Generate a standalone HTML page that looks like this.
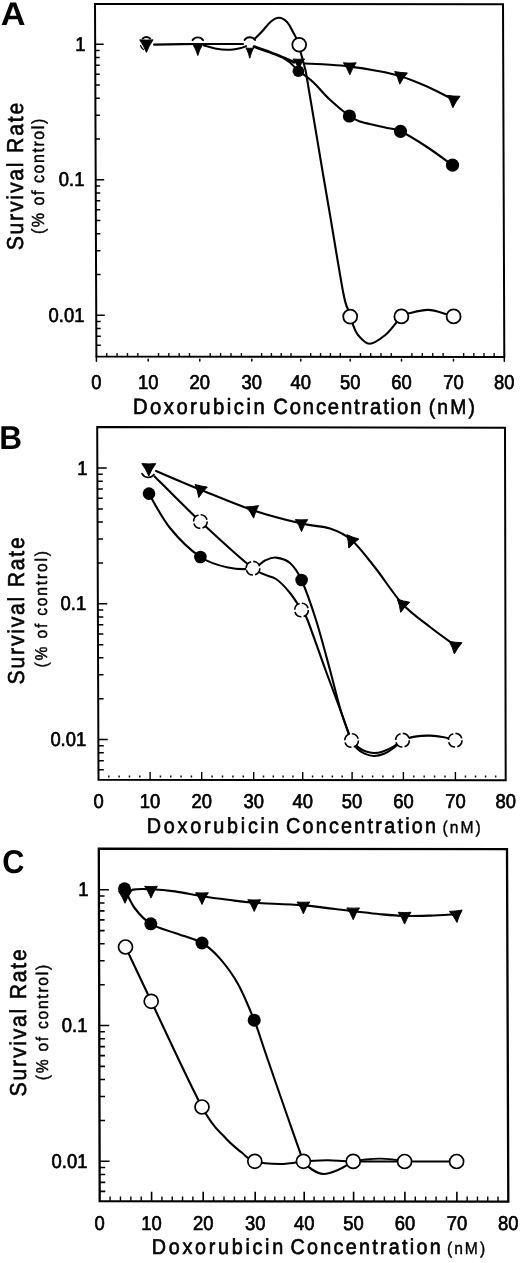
<!DOCTYPE html>
<html lang="en">
<head>
<meta charset="utf-8">
<title>Survival rate vs doxorubicin concentration</title>
<style>
html,body{margin:0;padding:0;background:#fff;}
body{width:520px;height:1263px;overflow:hidden;}
svg{display:block;will-change:transform;filter:grayscale(1);}
text{font-family:"Liberation Sans",Arial,Helvetica,sans-serif;text-rendering:geometricPrecision;}
</style>
</head>
<body>
<svg width="520" height="1263" viewBox="0 0 520 1263" font-family='"Liberation Sans", Arial, Helvetica, sans-serif' fill="#000">
<rect width="520" height="1263" fill="#fff"/>
<g id="panel-A">
<polygon points="95,3.9 503,4.2 504.3,357 96.4,356.5" fill="none" stroke="#000" stroke-width="2.0" stroke-linejoin="miter"/>
<path d="M95.16,44.3 h8.5 M95.19,50.5 h4.5 M95.21,57.43 h4.5 M95.24,65.29 h4.5 M95.28,74.36 h4.5 M95.32,85.09 h4.5 M95.37,98.22 h4.5 M95.44,115.15 h4.5 M95.54,139.01 h4.5 M95.7,179.8 h8.5 M95.72,186 h4.5 M95.75,192.93 h4.5 M95.78,200.79 h4.5 M95.82,209.86 h4.5 M95.86,220.59 h4.5 M95.91,233.72 h4.5 M95.98,250.65 h4.5 M96.07,274.51 h4.5 M96.24,315.3 h8.5 M96.26,321.5 h4.5 M96.29,328.43 h4.5 M96.32,336.29 h4.5 M96.36,345.36 h4.5" stroke="#000" stroke-width="1.5" fill="none"/>
<path d="M106.76,356.3 v-3.2 M117.12,356.3 v-3.2 M127.48,356.3 v-3.2 M137.84,356.3 v-3.2 M158.52,356.3 v-3.2 M168.84,356.3 v-3.2 M179.16,356.3 v-3.2 M189.48,356.3 v-3.2 M210.2,356.3 v-3.2 M220.6,356.3 v-3.2 M231,356.3 v-3.2 M241.4,356.3 v-3.2 M261.6,356.3 v-3.2 M271.4,356.3 v-3.2 M281.2,356.3 v-3.2 M291,356.3 v-3.2 M310.68,356.3 v-3.2 M320.56,356.3 v-3.2 M330.44,356.3 v-3.2 M340.32,356.3 v-3.2 M360.46,356.3 v-3.2 M370.72,356.3 v-3.2 M380.98,356.3 v-3.2 M391.24,356.3 v-3.2 M411.9,356.3 v-3.2 M422.3,356.3 v-3.2 M432.7,356.3 v-3.2 M443.1,356.3 v-3.2 M463.66,356.3 v-3.2 M473.82,356.3 v-3.2 M483.98,356.3 v-3.2 M494.14,356.3 v-3.2" stroke="#111" stroke-width="1.4" fill="none"/>
<path d="M96.4,356.7 v4.5 M148.2,359.3 v1.8 M199.8,359.3 v1.8 M251.8,359.3 v1.8 M300.8,359.3 v1.8 M350.2,359.3 v1.8 M401.5,359.3 v1.8 M453.5,359.3 v1.8 M504.3,356.7 v4.5" stroke="#000" stroke-width="1.5" fill="none" stroke-linecap="round"/>
<text x="85.6" y="50.8" font-size="20" text-anchor="end" textLength="10.23" lengthAdjust="spacingAndGlyphs" stroke="#000" stroke-width="0.7">1</text>
<text x="84.4" y="186.3" font-size="20" text-anchor="end" textLength="25.58" lengthAdjust="spacingAndGlyphs" stroke="#000" stroke-width="0.7">0.1</text>
<text x="84.4" y="321.8" font-size="20" text-anchor="end" textLength="35.81" lengthAdjust="spacingAndGlyphs" stroke="#000" stroke-width="0.7">0.01</text>
<text x="96.4" y="389.1" font-size="20" text-anchor="middle" textLength="10.23" lengthAdjust="spacingAndGlyphs" stroke="#000" stroke-width="0.7">0</text>
<text x="148.2" y="389.1" font-size="20" text-anchor="middle" textLength="20.46" lengthAdjust="spacingAndGlyphs" stroke="#000" stroke-width="0.7">10</text>
<text x="199.8" y="389.1" font-size="20" text-anchor="middle" textLength="20.46" lengthAdjust="spacingAndGlyphs" stroke="#000" stroke-width="0.7">20</text>
<text x="251.8" y="389.1" font-size="20" text-anchor="middle" textLength="20.46" lengthAdjust="spacingAndGlyphs" stroke="#000" stroke-width="0.7">30</text>
<text x="300.8" y="389.1" font-size="20" text-anchor="middle" textLength="20.46" lengthAdjust="spacingAndGlyphs" stroke="#000" stroke-width="0.7">40</text>
<text x="350.2" y="389.1" font-size="20" text-anchor="middle" textLength="20.46" lengthAdjust="spacingAndGlyphs" stroke="#000" stroke-width="0.7">50</text>
<text x="401.5" y="389.1" font-size="20" text-anchor="middle" textLength="20.46" lengthAdjust="spacingAndGlyphs" stroke="#000" stroke-width="0.7">60</text>
<text x="453.5" y="389.1" font-size="20" text-anchor="middle" textLength="20.46" lengthAdjust="spacingAndGlyphs" stroke="#000" stroke-width="0.7">70</text>
<text x="504.3" y="389.1" font-size="20" text-anchor="middle" textLength="20.46" lengthAdjust="spacingAndGlyphs" stroke="#000" stroke-width="0.7">80</text>
<path d="M154,44.6 C161.3,44.5 182.97,44.1 197.8,44 C212.63,43.9 235.47,44 243,44" fill="none" stroke="#000" stroke-width="2.1" stroke-linecap="round" stroke-linejoin="round"/>
<path d="M255,38.5 C256.17,37.33 259.33,34.33 262,31.5 C264.67,28.67 268.17,23.78 271,21.5 C273.83,19.22 276.33,17.72 279,17.8 C281.67,17.88 284.67,19.63 287,22 C289.33,24.37 291.42,29.25 293,32 C294.58,34.75 295.92,37.42 296.5,38.5" fill="none" stroke="#000" stroke-width="2.1" stroke-linecap="round" stroke-linejoin="round"/>
<path d="M300.4,51.6 C300.73,52.75 301.63,55.68 302.4,58.5 C303.17,61.32 304.17,64.75 305,68.5 C305.83,72.25 304.4,63.42 307.4,81 C310.4,98.58 319.37,152.5 323,174 C326.63,195.5 325.83,190.25 329.2,210 C332.57,229.75 340,275.8 343.2,292.5 C346.4,309.2 347.53,307.25 348.4,310.2" fill="none" stroke="#000" stroke-width="2.1" stroke-linecap="round" stroke-linejoin="round"/>
<path d="M352.4,323.4 C353.33,325.33 355.15,331.6 358,335 C360.85,338.4 365,343.75 369.5,343.8 C374,343.85 380.48,338.9 385,335.3 C389.52,331.7 394.67,324.38 396.6,322.2" fill="none" stroke="#000" stroke-width="2.1" stroke-linecap="round" stroke-linejoin="round"/>
<path d="M407.6,313.6 C411,312.98 421.47,309.8 428,309.9 C434.53,310 443.67,313.48 446.8,314.2" fill="none" stroke="#000" stroke-width="2.1" stroke-linecap="round" stroke-linejoin="round"/>
<path d="M204,45.5 C205.83,46 211,47.78 215,48.5 C219,49.22 223.83,49.85 228,49.8 C232.17,49.75 237,48.8 240,48.2 C243,47.6 245,46.53 246,46.2" fill="none" stroke="#000" stroke-width="2.1" stroke-linecap="round" stroke-linejoin="round"/>
<path d="M254,46.6 C256.67,47.53 264.83,50.27 270,52.2 C275.17,54.13 281,56.53 285,58.2 C289,59.87 292.5,61.53 294,62.2" fill="none" stroke="#000" stroke-width="2.8" stroke-linecap="round" stroke-linejoin="round"/>
<path d="M284,58.4 C285,59.08 288.25,61.07 290,62.5 C291.75,63.93 293.75,66.25 294.5,67" fill="none" stroke="#000" stroke-width="2.1" stroke-linecap="round" stroke-linejoin="round"/>
<path d="M305,63.5 C309.17,63.72 322.53,64.28 330,64.8 C337.47,65.32 342.3,65.65 349.8,66.6 C357.3,67.55 366.55,68.9 375,70.5 C383.45,72.1 391.83,73.53 400.5,76.2 C409.17,78.87 418.2,82.6 427,86.5 C435.8,90.4 448.92,97.42 453.3,99.6" fill="none" stroke="#000" stroke-width="2.1" stroke-linecap="round" stroke-linejoin="round"/>
<path d="M298.6,71 C301,72.83 307.77,77.2 313,82 C318.23,86.8 323.93,94.13 330,99.8 C336.07,105.47 344.4,112.37 349.4,116 C354.4,119.63 355.73,120.07 360,121.6 C364.27,123.13 370.5,124.15 375,125.2 C379.5,126.25 382.75,126.88 387,127.9 C391.25,128.92 393.83,128.12 400.5,131.3 C407.17,134.48 418.33,141.35 427,147 C435.67,152.65 448.25,162.17 452.5,165.2" fill="none" stroke="#000" stroke-width="2.1" stroke-linecap="round" stroke-linejoin="round"/>
<path d="M142.64,38.42 A6.4,6.4 0 0 1 150.16,38.42" fill="none" stroke="#000" stroke-width="1.9" stroke-linecap="round"/>
<path d="M140.6,45.5 A6.6,6.6 0 0 0 143.4,49.6" fill="none" stroke="#000" stroke-width="1.2" stroke-linecap="round"/>
<path transform="translate(146.4,44) rotate(0)" d="M-6.7,-4.2 Q0,-3.65 6.7,-4.2 Q2.61,1.64 0,8.4 Q-2.61,1.64 -6.7,-4.2 Z" fill="#000" stroke="#000" stroke-width="0.9" stroke-linejoin="round"/>
<path d="M192.56,40.13 A6.4,6.4 0 0 1 203.04,40.13" fill="none" stroke="#000" stroke-width="1.9" stroke-linecap="round"/>
<path transform="translate(197.8,48.4) rotate(0)" d="M-4.8,-3.8 Q0,-3.12 4.8,-3.8 Q1.68,1.19 0,7.2 Q-1.68,1.19 -4.8,-3.8 Z" fill="#000" stroke="#000" stroke-width="0.9" stroke-linejoin="round"/>
<path d="M244.56,39.93 A6.4,6.4 0 0 1 255.04,39.93" fill="none" stroke="#000" stroke-width="1.9" stroke-linecap="round"/>
<path transform="translate(249.8,51.6) rotate(0)" d="M-3.8,-3.6 Q0,-2.95 3.8,-3.6 Q1.33,1.05 0,6.6 Q-1.33,1.05 -3.8,-3.6 Z" fill="#000" stroke="#000" stroke-width="0.9" stroke-linejoin="round"/>
<circle cx="299.2" cy="44.8" r="6.9" fill="#fff" stroke="#000" stroke-width="1.8"/>
<path transform="translate(298.8,62.8) rotate(0)" d="M-5.8,-3.8 Q0,-3.3 5.8,-3.8 Q2.26,0.86 0,6 Q-2.26,0.86 -5.8,-3.8 Z" fill="#000" stroke="#000" stroke-width="0.9" stroke-linejoin="round"/>
<circle cx="298.4" cy="71.2" r="5.8" fill="#000"/>
<path transform="translate(349.8,66.8) rotate(0)" d="M-6.4,-4 Q0,-3.47 6.4,-4 Q2.5,1.56 0,8 Q-2.5,1.56 -6.4,-4 Z" fill="#000" stroke="#000" stroke-width="0.9" stroke-linejoin="round"/>
<path transform="translate(400.6,76.2) rotate(6)" d="M-6.4,-4 Q0,-3.47 6.4,-4 Q2.5,1.56 0,8 Q-2.5,1.56 -6.4,-4 Z" fill="#000" stroke="#000" stroke-width="0.9" stroke-linejoin="round"/>
<path transform="translate(453.4,99.8) rotate(4)" d="M-6.4,-4 Q0,-3.47 6.4,-4 Q2.5,1.56 0,8 Q-2.5,1.56 -6.4,-4 Z" fill="#000" stroke="#000" stroke-width="0.9" stroke-linejoin="round"/>
<circle cx="349.4" cy="116" r="6.6" fill="#000"/>
<circle cx="400.5" cy="131.3" r="6.6" fill="#000"/>
<circle cx="452.5" cy="165.2" r="6.6" fill="#000"/>
<circle cx="350.2" cy="316.6" r="7.0" fill="#fff" stroke="#000" stroke-width="1.8"/>
<circle cx="401.4" cy="316.4" r="7.0" fill="#fff" stroke="#000" stroke-width="1.8"/>
<circle cx="453.6" cy="316.4" r="7.0" fill="#fff" stroke="#000" stroke-width="1.8"/>
<text x="0.7" y="24.7" font-size="32.6" font-weight="bold" textLength="24.8" lengthAdjust="spacingAndGlyphs">A</text>
<text transform="translate(22.6,176.6) rotate(-90) scale(0.92,1)" font-size="23" text-anchor="middle" textLength="160.4" lengthAdjust="spacing" stroke="#000" stroke-width="0.6">Survival Rate</text>
<text transform="translate(43.9,176.4) rotate(-90) scale(0.92,1)" font-size="17.5" text-anchor="middle" textLength="125.4" lengthAdjust="spacing" stroke="#000" stroke-width="0.45">(% of control)</text>
<text transform="translate(0,414) scale(0.92,1)" stroke="#000"><tspan x="144.5" font-size="22" textLength="143.2" lengthAdjust="spacing" stroke-width="0.65">Doxorubicin</tspan> <tspan x="297.1" font-size="22" textLength="160.8" lengthAdjust="spacing" stroke-width="0.65">Concentration</tspan> <tspan x="466.0" font-size="21" textLength="50.2" lengthAdjust="spacing" stroke-width="0.6">(nM)</tspan></text>
</g>
<g id="panel-B">
<polygon points="97.2,427 505,427.7 505.7,780.2 98.5,779.8" fill="none" stroke="#000" stroke-width="2.0" stroke-linejoin="miter"/>
<path d="M97.35,468 h9.4 M97.37,474.21 h5.4 M97.4,481.16 h5.4 M97.43,489.04 h5.4 M97.46,498.13 h5.4 M97.5,508.88 h5.4 M97.55,522.04 h5.4 M97.61,539.01 h5.4 M97.7,562.92 h5.4 M97.85,603.8 h9.4 M97.87,610.01 h5.4 M97.9,616.96 h5.4 M97.93,624.84 h5.4 M97.96,633.93 h5.4 M98,644.68 h5.4 M98.05,657.84 h5.4 M98.11,674.81 h5.4 M98.2,698.72 h5.4 M98.35,739.6 h9.4 M98.37,745.81 h5.4 M98.4,752.76 h5.4 M98.43,760.64 h5.4 M98.46,769.73 h5.4" stroke="#000" stroke-width="1.5" fill="none"/>
<path d="M108.82,777.6 v-2.0 M119.14,777.6 v-2.0 M129.46,777.6 v-2.0 M139.78,777.6 v-2.0 M160.42,777.6 v-2.0 M170.74,777.6 v-2.0 M181.06,777.6 v-2.0 M191.38,777.6 v-2.0 M212.1,777.6 v-2.0 M222.5,777.6 v-2.0 M232.9,777.6 v-2.0 M243.3,777.6 v-2.0 M263.5,777.6 v-2.0 M273.3,777.6 v-2.0 M283.1,777.6 v-2.0 M292.9,777.6 v-2.0 M312.58,777.6 v-2.0 M322.46,777.6 v-2.0 M332.34,777.6 v-2.0 M342.22,777.6 v-2.0 M362.36,777.6 v-2.0 M372.62,777.6 v-2.0 M382.88,777.6 v-2.0 M393.14,777.6 v-2.0 M413.8,777.6 v-2.0 M424.2,777.6 v-2.0 M434.6,777.6 v-2.0 M445,777.6 v-2.0 M465.46,777.6 v-2.0 M475.52,777.6 v-2.0 M485.58,777.6 v-2.0 M495.64,777.6 v-2.0" stroke="#111" stroke-width="1.5" fill="none"/>
<path d="M150.1,780 v-8 M201.7,780 v-8 M253.7,780 v-8 M302.7,780 v-8 M352.1,780 v-8 M403.4,780 v-8 M455.4,780 v-8" stroke="#000" stroke-width="1.4" fill="none"/>
<text x="87.4" y="474.5" font-size="20" text-anchor="end" textLength="10.23" lengthAdjust="spacingAndGlyphs" stroke="#000" stroke-width="0.7">1</text>
<text x="86.2" y="610.3" font-size="20" text-anchor="end" textLength="25.58" lengthAdjust="spacingAndGlyphs" stroke="#000" stroke-width="0.7">0.1</text>
<text x="86.2" y="746.1" font-size="20" text-anchor="end" textLength="35.81" lengthAdjust="spacingAndGlyphs" stroke="#000" stroke-width="0.7">0.01</text>
<text x="98.5" y="808.2" font-size="20" text-anchor="middle" textLength="10.23" lengthAdjust="spacingAndGlyphs" stroke="#000" stroke-width="0.7">0</text>
<text x="150.1" y="808.2" font-size="20" text-anchor="middle" textLength="20.46" lengthAdjust="spacingAndGlyphs" stroke="#000" stroke-width="0.7">10</text>
<text x="201.7" y="808.2" font-size="20" text-anchor="middle" textLength="20.46" lengthAdjust="spacingAndGlyphs" stroke="#000" stroke-width="0.7">20</text>
<text x="253.7" y="808.2" font-size="20" text-anchor="middle" textLength="20.46" lengthAdjust="spacingAndGlyphs" stroke="#000" stroke-width="0.7">30</text>
<text x="302.7" y="808.2" font-size="20" text-anchor="middle" textLength="20.46" lengthAdjust="spacingAndGlyphs" stroke="#000" stroke-width="0.7">40</text>
<text x="352.1" y="808.2" font-size="20" text-anchor="middle" textLength="20.46" lengthAdjust="spacingAndGlyphs" stroke="#000" stroke-width="0.7">50</text>
<text x="403.4" y="808.2" font-size="20" text-anchor="middle" textLength="20.46" lengthAdjust="spacingAndGlyphs" stroke="#000" stroke-width="0.7">60</text>
<text x="455.4" y="808.2" font-size="20" text-anchor="middle" textLength="20.46" lengthAdjust="spacingAndGlyphs" stroke="#000" stroke-width="0.7">70</text>
<text x="505.7" y="808.2" font-size="20" text-anchor="middle" textLength="20.46" lengthAdjust="spacingAndGlyphs" stroke="#000" stroke-width="0.7">80</text>
<path d="M156,471 C163.4,474.12 184.27,483.17 200.4,489.7 C216.53,496.23 235.95,504.55 252.8,510.2 C269.65,515.85 288.63,520.55 301.5,523.6 C314.37,526.65 321.67,525.77 330,528.5 C338.33,531.23 343.93,533.42 351.5,540 C359.07,546.58 366.9,557.33 375.4,568 C383.9,578.67 393.4,594.17 402.5,604 C411.6,613.83 421.22,620.08 430,627 C438.78,633.92 451,642.42 455.2,645.5" fill="none" stroke="#000" stroke-width="2.1" stroke-linecap="round" stroke-linejoin="round"/>
<path d="M154.6,476.4 C162.23,483.93 184.03,506.3 200.4,521.6 C216.77,536.9 240.2,558.63 252.8,568.2 C265.4,577.77 269.8,574.87 276,579 C282.2,583.13 285.75,587.83 290,593 C294.25,598.17 298.58,605.5 301.5,610 C304.42,614.5 303.5,610 307.5,620 C311.5,630 320.15,655.33 325.5,670 C330.85,684.67 335.75,697.42 339.6,708 C343.45,718.58 346.6,728.08 348.6,733.5 C350.6,738.92 350.2,738 351.6,740.5 C353,743 354.85,746.32 357,748.5 C359.15,750.68 361.67,752.35 364.5,753.6 C367.33,754.85 370.75,755.97 374,756 C377.25,756.03 380.75,755.13 384,753.8 C387.25,752.47 390.42,750.27 393.5,748 C396.58,745.73 398.92,742.1 402.5,740.2 C406.08,738.3 410.42,737.37 415,736.6 C419.58,735.83 425.17,735.5 430,735.6 C434.83,735.7 439.8,736.43 444,737.2 C448.2,737.97 453.33,739.7 455.2,740.2" fill="none" stroke="#000" stroke-width="2.1" stroke-linecap="round" stroke-linejoin="round"/>
<path d="M148.8,493.4 C152.33,499.17 161.4,517.4 170,528 C178.6,538.6 190.73,550.42 200.4,557 C210.07,563.58 219.27,565.63 228,567.5 C236.73,569.37 246.63,569.37 252.8,568.2 C258.97,567.03 261.13,562.27 265,560.5 C268.87,558.73 271.83,557.18 276,557.6 C280.17,558.02 285.75,559.27 290,563 C294.25,566.73 297.17,570.5 301.5,580 C305.83,589.5 311.25,605 316,620 C320.75,635 326,655.33 330,670 C334,684.67 336.87,697.42 340,708 C343.13,718.58 346.87,728.08 348.8,733.5 C350.73,738.92 350.07,738.22 351.6,740.5 C353.13,742.78 355.6,745.35 358,747.2 C360.4,749.05 363.33,750.63 366,751.6 C368.67,752.57 371.17,753.03 374,753 C376.83,752.97 379.75,752.47 383,751.4 C386.25,750.33 390.25,748.47 393.5,746.6 C396.75,744.73 401,741.27 402.5,740.2" fill="none" stroke="#000" stroke-width="2.1" stroke-linecap="round" stroke-linejoin="round"/>
<path d="M142.0,473.6 A7,7 0 0 0 153.9,474.4" fill="none" stroke="#000" stroke-width="1.7" stroke-linecap="round"/>
<path transform="translate(148.8,467.8) rotate(0)" d="M-7,-4.2 Q0,-3.65 7,-4.2 Q2.73,1.56 0,8.2 Q-2.73,1.56 -7,-4.2 Z" fill="#000" stroke="#000" stroke-width="0.9" stroke-linejoin="round"/>
<path transform="translate(200.4,489.7) rotate(12)" d="M-6.2,-4 Q0,-3.47 6.2,-4 Q2.42,1.56 0,8 Q-2.42,1.56 -6.2,-4 Z" fill="#000" stroke="#000" stroke-width="0.9" stroke-linejoin="round"/>
<path transform="translate(252.8,510.2) rotate(-6)" d="M-6.2,-4 Q0,-3.47 6.2,-4 Q2.42,1.56 0,8 Q-2.42,1.56 -6.2,-4 Z" fill="#000" stroke="#000" stroke-width="0.9" stroke-linejoin="round"/>
<path transform="translate(301.5,523.6) rotate(0)" d="M-6.2,-4 Q0,-3.47 6.2,-4 Q2.42,1.56 0,8 Q-2.42,1.56 -6.2,-4 Z" fill="#000" stroke="#000" stroke-width="0.9" stroke-linejoin="round"/>
<path transform="translate(351.5,540.6) rotate(20)" d="M-6.4,-4 Q0,-3.47 6.4,-4 Q2.5,1.56 0,8 Q-2.5,1.56 -6.4,-4 Z" fill="#000" stroke="#000" stroke-width="0.9" stroke-linejoin="round"/>
<path transform="translate(402.6,604.6) rotate(14)" d="M-6.4,-4 Q0,-3.47 6.4,-4 Q2.5,1.56 0,8 Q-2.5,1.56 -6.4,-4 Z" fill="#000" stroke="#000" stroke-width="0.9" stroke-linejoin="round"/>
<path transform="translate(455.2,646) rotate(6)" d="M-6.4,-4 Q0,-3.47 6.4,-4 Q2.5,1.56 0,8 Q-2.5,1.56 -6.4,-4 Z" fill="#000" stroke="#000" stroke-width="0.9" stroke-linejoin="round"/>
<circle cx="200.4" cy="521.6" r="6.8" fill="#fff" stroke="#000" stroke-width="1.6" stroke-dasharray="8.5 2.2"/>
<circle cx="253" cy="568.2" r="6.8" fill="#fff" stroke="#000" stroke-width="1.6" stroke-dasharray="8.5 2.2"/>
<circle cx="301.5" cy="610" r="6.8" fill="#fff" stroke="#000" stroke-width="1.6" stroke-dasharray="8.5 2.2"/>
<circle cx="351.6" cy="740.5" r="6.8" fill="#fff" stroke="#000" stroke-width="1.6" stroke-dasharray="8.5 2.2"/>
<circle cx="402.5" cy="740.2" r="6.8" fill="#fff" stroke="#000" stroke-width="1.6" stroke-dasharray="8.5 2.2"/>
<circle cx="455.2" cy="740.2" r="6.8" fill="#fff" stroke="#000" stroke-width="1.6" stroke-dasharray="8.5 2.2"/>
<circle cx="149" cy="493.6" r="6.3" fill="#000"/>
<circle cx="200.4" cy="557" r="6.3" fill="#000"/>
<circle cx="301.6" cy="580" r="6.3" fill="#000"/>
<text x="-0.7" y="448.9" font-size="33" font-weight="bold" textLength="22.8" lengthAdjust="spacingAndGlyphs">B</text>
<text transform="translate(24.0,610.8) rotate(-90) scale(0.92,1)" font-size="23" text-anchor="middle" textLength="160.0" lengthAdjust="spacing" stroke="#000" stroke-width="0.6">Survival Rate</text>
<text transform="translate(46.8,609.2) rotate(-90) scale(0.92,1)" font-size="17" text-anchor="middle" textLength="126.5" lengthAdjust="spacing" stroke="#000" stroke-width="0.45">(% of control)</text>
<text transform="translate(0,833.4) scale(0.92,1)" stroke="#000"><tspan x="159.5" font-size="21.5" textLength="143.4" lengthAdjust="spacing" stroke-width="0.65">Doxorubicin</tspan> <tspan x="310.8" font-size="21.5" textLength="163.2" lengthAdjust="spacing" stroke-width="0.65">Concentration</tspan> <tspan x="481.0" font-size="17" textLength="41.5" lengthAdjust="spacing" stroke-width="0.4">(nM)</tspan></text>
</g>
<g id="panel-C">
<polygon points="98.8,848.7 507,849.1 508.3,1201.6 99.7,1201.2" fill="none" stroke="#000" stroke-width="2.3" stroke-linejoin="miter"/>
<path d="M98.9,889.8 h10 M98.92,896.01 h5.6 M98.94,902.96 h5.6 M98.96,910.83 h5.6 M98.98,919.92 h5.6 M99.01,930.66 h5.6 M99.04,943.82 h5.6 M99.09,960.78 h5.6 M99.15,984.69 h5.6 M99.25,1025.55 h10 M99.27,1031.76 h5.6 M99.29,1038.71 h5.6 M99.31,1046.58 h5.6 M99.33,1055.67 h5.6 M99.36,1066.41 h5.6 M99.39,1079.57 h5.6 M99.43,1096.53 h5.6 M99.49,1120.44 h5.6 M99.6,1161.3 h10 M99.61,1167.51 h5.6 M99.63,1174.46 h5.6 M99.65,1182.33 h5.6 M99.68,1191.42 h5.6" stroke="#000" stroke-width="1.6" fill="none"/>
<path d="M110.08,1201.4 v-4.8 M120.46,1201.4 v-4.8 M130.84,1201.4 v-4.8 M141.22,1201.4 v-4.8 M161.92,1201.4 v-4.8 M172.24,1201.4 v-4.8 M182.56,1201.4 v-4.8 M192.88,1201.4 v-4.8 M213.6,1201.4 v-4.8 M224,1201.4 v-4.8 M234.4,1201.4 v-4.8 M244.8,1201.4 v-4.8 M265,1201.4 v-4.8 M274.8,1201.4 v-4.8 M284.6,1201.4 v-4.8 M294.4,1201.4 v-4.8 M314.08,1201.4 v-4.8 M323.96,1201.4 v-4.8 M333.84,1201.4 v-4.8 M343.72,1201.4 v-4.8 M363.86,1201.4 v-4.8 M374.12,1201.4 v-4.8 M384.38,1201.4 v-4.8 M394.64,1201.4 v-4.8 M415.3,1201.4 v-4.8 M425.7,1201.4 v-4.8 M436.1,1201.4 v-4.8 M446.5,1201.4 v-4.8 M467.18,1201.4 v-4.8 M477.46,1201.4 v-4.8 M487.74,1201.4 v-4.8 M498.02,1201.4 v-4.8" stroke="#000" stroke-width="1.4" fill="none"/>
<path d="M151.6,1201.4 v-9.6 M203.2,1201.4 v-9.6 M255.2,1201.4 v-9.6 M304.2,1201.4 v-9.6 M353.6,1201.4 v-9.6 M404.9,1201.4 v-9.6 M456.9,1201.4 v-9.6" stroke="#000" stroke-width="1.6" fill="none"/>
<text x="88.6" y="896.3" font-size="20" text-anchor="end" textLength="10.23" lengthAdjust="spacingAndGlyphs" stroke="#000" stroke-width="0.7">1</text>
<text x="87.4" y="1032.05" font-size="20" text-anchor="end" textLength="25.58" lengthAdjust="spacingAndGlyphs" stroke="#000" stroke-width="0.7">0.1</text>
<text x="87.4" y="1167.8" font-size="20" text-anchor="end" textLength="35.81" lengthAdjust="spacingAndGlyphs" stroke="#000" stroke-width="0.7">0.01</text>
<text x="99.7" y="1230" font-size="20" text-anchor="middle" textLength="10.23" lengthAdjust="spacingAndGlyphs" stroke="#000" stroke-width="0.7">0</text>
<text x="151.6" y="1230" font-size="20" text-anchor="middle" textLength="20.46" lengthAdjust="spacingAndGlyphs" stroke="#000" stroke-width="0.7">10</text>
<text x="203.2" y="1230" font-size="20" text-anchor="middle" textLength="20.46" lengthAdjust="spacingAndGlyphs" stroke="#000" stroke-width="0.7">20</text>
<text x="255.2" y="1230" font-size="20" text-anchor="middle" textLength="20.46" lengthAdjust="spacingAndGlyphs" stroke="#000" stroke-width="0.7">30</text>
<text x="304.2" y="1230" font-size="20" text-anchor="middle" textLength="20.46" lengthAdjust="spacingAndGlyphs" stroke="#000" stroke-width="0.7">40</text>
<text x="353.6" y="1230" font-size="20" text-anchor="middle" textLength="20.46" lengthAdjust="spacingAndGlyphs" stroke="#000" stroke-width="0.7">50</text>
<text x="404.9" y="1230" font-size="20" text-anchor="middle" textLength="20.46" lengthAdjust="spacingAndGlyphs" stroke="#000" stroke-width="0.7">60</text>
<text x="456.9" y="1230" font-size="20" text-anchor="middle" textLength="20.46" lengthAdjust="spacingAndGlyphs" stroke="#000" stroke-width="0.7">70</text>
<text x="508.3" y="1230" font-size="20" text-anchor="middle" textLength="20.46" lengthAdjust="spacingAndGlyphs" stroke="#000" stroke-width="0.7">80</text>
<path d="M125,894.5 C126.33,893.68 128.67,890.48 133,889.6 C137.33,888.72 144,888.9 151,889.2 C158,889.5 166.5,890.23 175,891.4 C183.5,892.57 193.17,894.8 202,896.2 C210.83,897.6 219.3,898.7 228,899.8 C236.7,900.9 241.63,901.87 254.2,902.8 C266.77,903.73 286.9,904 303.4,905.4 C319.9,906.8 340.43,909.73 353.2,911.2 C365.97,912.67 371.43,913.4 380,914.2 C388.57,915 396.27,915.77 404.6,916 C412.93,916.23 421.33,915.9 430,915.6 C438.67,915.3 452.17,914.43 456.6,914.2" fill="none" stroke="#000" stroke-width="2.1" stroke-linecap="round" stroke-linejoin="round"/>
<path d="M124.6,888.8 C126.33,892.08 130.63,902.67 135,908.5 C139.37,914.33 144.13,919.72 150.8,923.8 C157.47,927.88 166.47,929.8 175,933 C183.53,936.2 194.5,938.73 202,943 C209.5,947.27 214,951.77 220,958.6 C226,965.43 232.3,973.73 238,984 C243.7,994.27 249.78,1009.2 254.2,1020.2 C258.62,1031.2 261.07,1040.03 264.5,1050 C267.93,1059.97 270.88,1068.67 274.8,1080 C278.72,1091.33 283.67,1105.6 288,1118 C292.33,1130.4 298.23,1147.18 300.8,1154.4 C303.37,1161.62 301.53,1158.78 303.4,1161.3 C305.27,1163.82 308.68,1167.38 312,1169.5 C315.32,1171.62 318.97,1173.92 323.3,1174 C327.63,1174.08 333.02,1172.1 338,1170 C342.98,1167.9 350.67,1162.83 353.2,1161.4" fill="none" stroke="#000" stroke-width="2.1" stroke-linecap="round" stroke-linejoin="round"/>
<path d="M125.5,947 C129.78,956.05 138.45,974.63 151.2,1001.3 C163.95,1027.97 189.77,1084.38 202,1107 C214.23,1129.62 217.93,1129.37 224.6,1137 C231.27,1144.63 237.07,1148.75 242,1152.8 C246.93,1156.85 247.87,1159.43 254.2,1161.3 C260.53,1163.17 271.8,1164 280,1164 C288.2,1164 299.5,1161.75 303.4,1161.3" fill="none" stroke="#000" stroke-width="2.1" stroke-linecap="round" stroke-linejoin="round"/>
<path d="M303.4,1161.3 C307.5,1161.12 319.7,1160.18 328,1160.2 C336.3,1160.22 340.43,1161.18 353.2,1161.4 C365.97,1161.62 387.37,1161.48 404.6,1161.5 C421.83,1161.52 447.93,1161.5 456.6,1161.5" fill="none" stroke="#000" stroke-width="2.1" stroke-linecap="round" stroke-linejoin="round"/>
<path d="M353.2,1161.4 C355.33,1161.07 361.53,1159.87 366,1159.4 C370.47,1158.93 375.67,1158.6 380,1158.6 C384.33,1158.6 387.9,1158.92 392,1159.4 C396.1,1159.88 402.5,1161.15 404.6,1161.5" fill="none" stroke="#000" stroke-width="1.6" stroke-linecap="round" stroke-linejoin="round"/>
<path transform="translate(125,895.4) rotate(0)" d="M-6.4,-3.9 Q0,-3.39 6.4,-3.9 Q2.5,1.56 0,7.9 Q-2.5,1.56 -6.4,-3.9 Z" fill="#000" stroke="#000" stroke-width="0.9" stroke-linejoin="round"/>
<path transform="translate(151,890.2) rotate(0)" d="M-6.4,-3.9 Q0,-3.39 6.4,-3.9 Q2.5,1.56 0,7.9 Q-2.5,1.56 -6.4,-3.9 Z" fill="#000" stroke="#000" stroke-width="0.9" stroke-linejoin="round"/>
<path transform="translate(202,896.6) rotate(0)" d="M-6.4,-3.9 Q0,-3.39 6.4,-3.9 Q2.5,1.56 0,7.9 Q-2.5,1.56 -6.4,-3.9 Z" fill="#000" stroke="#000" stroke-width="0.9" stroke-linejoin="round"/>
<path transform="translate(254.2,903.6) rotate(0)" d="M-6.4,-3.9 Q0,-3.39 6.4,-3.9 Q2.5,1.56 0,7.9 Q-2.5,1.56 -6.4,-3.9 Z" fill="#000" stroke="#000" stroke-width="0.9" stroke-linejoin="round"/>
<path transform="translate(303.4,905.9) rotate(0)" d="M-6.4,-3.9 Q0,-3.39 6.4,-3.9 Q2.5,1.56 0,7.9 Q-2.5,1.56 -6.4,-3.9 Z" fill="#000" stroke="#000" stroke-width="0.9" stroke-linejoin="round"/>
<path transform="translate(353.2,911.8) rotate(0)" d="M-6.4,-3.9 Q0,-3.39 6.4,-3.9 Q2.5,1.56 0,7.9 Q-2.5,1.56 -6.4,-3.9 Z" fill="#000" stroke="#000" stroke-width="0.9" stroke-linejoin="round"/>
<path transform="translate(404.6,916.2) rotate(0)" d="M-6.4,-3.9 Q0,-3.39 6.4,-3.9 Q2.5,1.56 0,7.9 Q-2.5,1.56 -6.4,-3.9 Z" fill="#000" stroke="#000" stroke-width="0.9" stroke-linejoin="round"/>
<path transform="translate(456.2,914.6) rotate(-6)" d="M-6.4,-3.9 Q0,-3.39 6.4,-3.9 Q2.5,1.56 0,7.9 Q-2.5,1.56 -6.4,-3.9 Z" fill="#000" stroke="#000" stroke-width="0.9" stroke-linejoin="round"/>
<circle cx="124.5" cy="888.8" r="6.5" fill="#000"/>
<circle cx="150.8" cy="923.8" r="6.5" fill="#000"/>
<circle cx="202" cy="943" r="6.5" fill="#000"/>
<circle cx="254.2" cy="1020.2" r="6.5" fill="#000"/>
<circle cx="125.5" cy="947" r="7" fill="#fff" stroke="#000" stroke-width="1.7"/>
<circle cx="151.2" cy="1001.3" r="7" fill="#fff" stroke="#000" stroke-width="1.7"/>
<circle cx="202" cy="1107" r="7" fill="#fff" stroke="#000" stroke-width="1.7"/>
<circle cx="254.8" cy="1161.3" r="7" fill="#fff" stroke="#000" stroke-width="1.7"/>
<circle cx="303.4" cy="1161.3" r="7" fill="#fff" stroke="#000" stroke-width="1.7"/>
<circle cx="353.2" cy="1161.4" r="7" fill="#fff" stroke="#000" stroke-width="1.7"/>
<circle cx="404.6" cy="1161.5" r="7" fill="#fff" stroke="#000" stroke-width="1.7"/>
<circle cx="456.6" cy="1161.5" r="7" fill="#fff" stroke="#000" stroke-width="1.7"/>
<text x="2.2" y="872.5" font-size="33" font-weight="bold" textLength="22.2" lengthAdjust="spacingAndGlyphs">C</text>
<text transform="translate(25.6,1022.8) rotate(-90) scale(0.92,1)" font-size="23" text-anchor="middle" textLength="160.0" lengthAdjust="spacing" stroke="#000" stroke-width="0.6">Survival Rate</text>
<text transform="translate(47.8,1022.5) rotate(-90) scale(0.92,1)" font-size="17" text-anchor="middle" textLength="125.4" lengthAdjust="spacing" stroke="#000" stroke-width="0.45">(% of control)</text>
<text transform="translate(0,1254.2) scale(0.92,1)" stroke="#000"><tspan x="164.9" font-size="21.5" textLength="142.9" lengthAdjust="spacing" stroke-width="0.65">Doxorubicin</tspan> <tspan x="315.8" font-size="21.5" textLength="163.2" lengthAdjust="spacing" stroke-width="0.65">Concentration</tspan> <tspan x="485.8" font-size="17" textLength="41.5" lengthAdjust="spacing" stroke-width="0.4">(nM)</tspan></text>
</g>
</svg>
</body>
</html>
